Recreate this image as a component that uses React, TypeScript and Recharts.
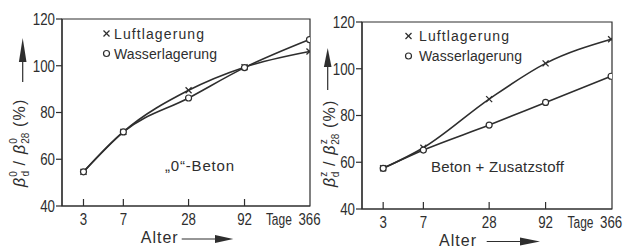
import React from "react";
import { LineChart, Line, XAxis, YAxis, ReferenceArea, Legend } from "recharts";

// Alter (Tage), logarithmisch aufgetragen
const ages = [3, 7, 28, 92, 366];
const yTicks = [40, 60, 80, 100, 120];
const seriesNames = ["Luftlagerung", "Wasserlagerung"];

// "0"-Beton
const betonLuft = [54.6, 71.7, 89.5, 99.4, 106.1];
const betonWasser = [54.6, 71.7, 86.2, 99.2, 111.2];

// Beton + Zusatzstoff
const zusatzLuft = [57.4, 66.2, 87.0, 102.3, 112.6];
const zusatzWasser = [57.4, 65.2, 75.9, 85.6, 96.8];

const INK = "#2e2e2e";
const FONT = '"Liberation Sans", Arial, sans-serif';
const DIGIT = 7.4; // Schablonenschrift ist schmal

const CrossDot = (props: any) => {
  const { cx, cy, index } = props;
  const s = 3;
  return (
    <g key={`x-${index}`}>
      <line x1={cx - s} y1={cy - s} x2={cx + s} y2={cy + s} stroke={INK} strokeWidth={1.3} />
      <line x1={cx - s} y1={cy + s} x2={cx + s} y2={cy - s} stroke={INK} strokeWidth={1.3} />
    </g>
  );
};

// schmale Beschriftung: feste Breite, linksbündig gesetzt
const Narrow = ({ x, y, w, size, children, dy }: any) => (
  <text
    x={x}
    y={y}
    dy={dy}
    fontSize={size}
    fill={INK}
    textLength={w}
    lengthAdjust="spacingAndGlyphs"
  >
    {children}
  </text>
);

const XTick = (props: any) => {
  const { x, y, payload } = props;
  const label = String(payload.value);
  const w = label.length * DIGIT;
  const last = payload.value === 366;
  return (
    <g>
      {!last && <line x1={x} x2={x} y1={y} y2={y - 7} stroke={INK} strokeWidth={1.2} />}
      <Narrow x={x - w / 2} y={y + 18.5} w={w} size={16}>
        {label}
      </Narrow>
      {last && (
        <Narrow x={x - w / 2 - 6.5 - 26} y={y + 18.5} w={26} size={16}>
          Tage
        </Narrow>
      )}
    </g>
  );
};

const YTick = (props: any) => {
  const { x, y, payload } = props;
  const label = String(payload.value);
  const w = label.length * DIGIT;
  return (
    <Narrow x={x - w} y={y} dy="0.36em" w={w} size={16}>
      {label}
    </Narrow>
  );
};

const YTitle = (props: any) => {
  const { sup, bx, by, ax, tip, base, end } = props;
  return (
    <g>
      <text
        transform={`rotate(-90 ${bx} ${by})`}
        x={bx}
        y={by}
        fontSize={16}
        fill={INK}
        letterSpacing={1.2}
      >
        <tspan fontStyle="italic">β</tspan>
        <tspan fontSize={10} dy={-8} letterSpacing={0}>{sup}</tspan>
        <tspan fontSize={10} dx={-5.5} dy={12} letterSpacing={0}>d</tspan>
        <tspan dy={-4}> / </tspan>
        <tspan fontStyle="italic">β</tspan>
        <tspan fontSize={10} dy={-8} letterSpacing={0}>{sup}</tspan>
        <tspan fontSize={10} dx={-5.5} dy={12} letterSpacing={0}>28</tspan>
        <tspan dy={-4}> (%)</tspan>
      </text>
      <line x1={ax} x2={ax} y1={end} y2={base} stroke={INK} strokeWidth={1.2} />
      <path d={`M${ax} ${tip} L${ax - 3.8} ${base} L${ax + 3.8} ${base} Z`} fill={INK} />
    </g>
  );
};

const XTitle = (props: any) => {
  const { tx, ty, l0, l1, h1, ay } = props;
  return (
    <g>
      <text x={tx} y={ty} fontSize={16} fill={INK} textLength={37} lengthAdjust="spacing">
        Alter
      </text>
      <line x1={l0} x2={l1} y1={ay} y2={ay} stroke={INK} strokeWidth={1.2} />
      <path d={`M${h1} ${ay} L${l1} ${ay - 4} L${l1} ${ay + 4} Z`} fill={INK} />
    </g>
  );
};

const Note = (props: any) => {
  const { nx, ny, w, text } = props;
  return (
    <text x={nx} y={ny} fontSize={15} fill={INK} textLength={w} lengthAdjust="spacing">
      {text}
    </text>
  );
};

const legendWidths: Record<string, number> = { luft: 90, wasser: 103 };

const makeLegend = (mx: number, tx: number, y0: number) => (props: any) => {
  const items = props.payload || [];
  return (
    <svg width={312} height={80} style={{ display: "block" }}>
      {items.map((it: any, i: number) => {
        const y = y0 + i * 20;
        return (
          <g key={it.value}>
            {it.dataKey === "luft" ? (
              <CrossDot cx={mx} cy={y} index={i} />
            ) : (
              <circle cx={mx} cy={y} r={3} fill="#fff" stroke={INK} strokeWidth={1.2} />
            )}
            <text
              x={tx}
              y={y + 5}
              fontSize={14}
              fill={INK}
              fontFamily={FONT}
              textLength={legendWidths[it.dataKey]}
              lengthAdjust="spacing"
            >
              {it.value}
            </text>
          </g>
        );
      })}
    </svg>
  );
};

type PanelProps = {
  width: number;
  luft: number[];
  wasser: number[];
  domain: [number, number];
  margin: { top: number; right: number; left: number; bottom: number };
  yAxisWidth: number;
  xAxisHeight: number;
  sup: string;
  yTitle: any;
  xTitle: any;
  note: any;
  legend: [number, number, number];
};

function Panel(p: PanelProps) {
  const rows = ages.map((a, i) => ({ age: a, luft: p.luft[i], wasser: p.wasser[i] }));
  return (
    <LineChart width={p.width} height={247} data={rows} margin={p.margin}>
      <XAxis
        dataKey="age"
        type="number"
        scale="log"
        domain={p.domain}
        ticks={ages}
        allowDataOverflow
        height={p.xAxisHeight}
        tickLine={false}
        tickSize={0}
        tickMargin={0}
        tick={<XTick />}
        axisLine={{ stroke: INK, strokeWidth: 1.2 }}
        label={<XTitle {...p.xTitle} />}
      />
      <YAxis
        type="number"
        domain={[40, 120]}
        ticks={yTicks}
        width={p.yAxisWidth}
        tickSize={6}
        tickMargin={1}
        tickLine={{ stroke: INK, strokeWidth: 1.2 }}
        axisLine={{ stroke: INK, strokeWidth: 1.2 }}
        tick={<YTick />}
        label={<YTitle sup={p.sup} {...p.yTitle} />}
      />
      <ReferenceArea
        x1={p.domain[0]}
        x2={p.domain[1]}
        y1={40}
        y2={120}
        fill="none"
        stroke={INK}
        strokeWidth={1.2}
        ifOverflow="visible"
        label={<Note {...p.note} />}
      />
      <Legend
        layout="vertical"
        align="center"
        verticalAlign="middle"
        wrapperStyle={{ left: 0, top: 0, width: 312, height: 80 }}
        content={makeLegend(p.legend[0], p.legend[1], p.legend[2])}
      />
      <Line
        type="monotone"
        dataKey="luft"
        name={seriesNames[0]}
        stroke={INK}
        strokeWidth={1.6}
        dot={(d: any) => <CrossDot key={`l-${d.index}`} {...d} />}
        isAnimationActive={false}
      />
      <Line
        type="monotone"
        dataKey="wasser"
        name={seriesNames[1]}
        stroke={INK}
        strokeWidth={1.6}
        dot={{ r: 3, fill: "#fff", stroke: INK, strokeWidth: 1.2 }}
        isAnimationActive={false}
      />
    </LineChart>
  );
}

export default function App() {
  return (
    <div
      style={{
        position: "absolute",
        left: 0,
        top: 0,
        width: 624,
        height: 247,
        background: "#fff",
        fontFamily: FONT,
        overflow: "hidden",
      }}
    >
      <div style={{ position: "absolute", left: 0, top: 0 }}>
        <Panel
          width={330}
          luft={betonLuft}
          wasser={betonWasser}
          domain={[1.9, 370]}
          margin={{ top: 19, right: 20, left: 0, bottom: 0 }}
          yAxisWidth={62}
          xAxisHeight={41}
          sup="0"
          yTitle={{ bx: 25, by: 187, ax: 22.7, tip: 38, base: 62, end: 82 }}
          xTitle={{ tx: 140.7, ty: 243.3, l0: 181.7, l1: 215, h1: 233.3, ay: 239 }}
          note={{ nx: 165, ny: 170.5, w: 69, text: "„0“-Beton" }}
          legend={[106.5, 114, 33.5]}
        />
      </div>
      <div style={{ position: "absolute", left: 312, top: 0 }}>
        <Panel
          width={312}
          luft={zusatzLuft}
          wasser={zusatzWasser}
          domain={[1.92, 373]}
          margin={{ top: 22, right: 12, left: 0, bottom: 0 }}
          yAxisWidth={50}
          xAxisHeight={38}
          sup="z"
          yTitle={{ bx: 23, by: 187, ax: 15.7, tip: 48, base: 67, end: 90 }}
          xTitle={{ tx: 127, ty: 245.5, l0: 174.7, l1: 208, h1: 228, ay: 241.5 }}
          note={{ nx: 119, ny: 172, w: 133, text: "Beton + Zusatzstoff" }}
          legend={[96.5, 107, 36]}
        />
      </div>
    </div>
  );
}
